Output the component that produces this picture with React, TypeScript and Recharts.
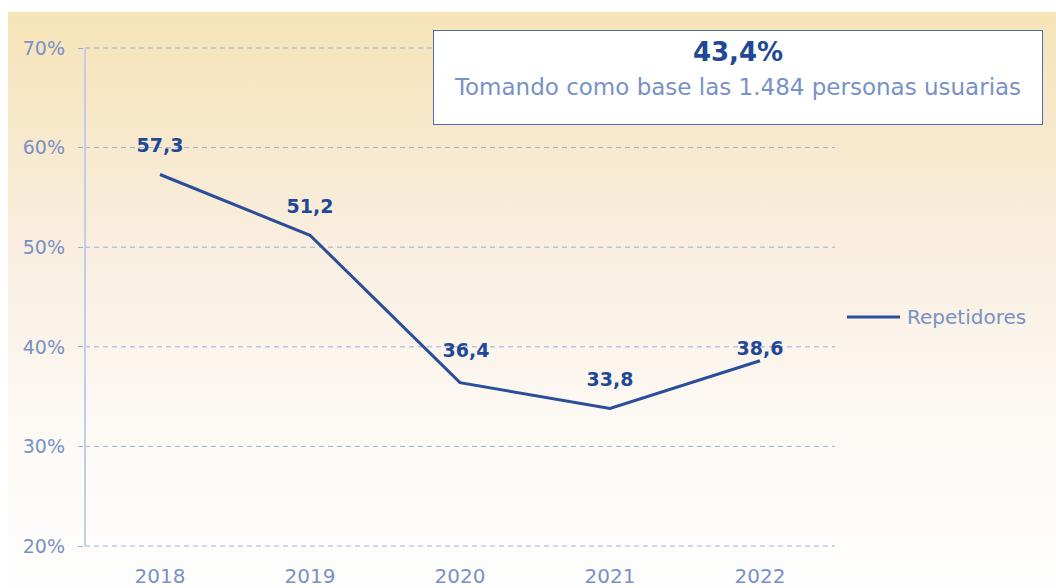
import { CartesianGrid, LabelList, Legend, Line, LineChart, XAxis, YAxis } from 'recharts'

const YEARS = ['2018', '2019', '2020', '2021', '2022']
const REPETIDORES = [57.3, 51.2, 36.4, 33.8, 38.6]
const Y_TICKS = [20, 30, 40, 50, 60, 70]
const SERIES_NAME = 'Repetidores'
const BOX_VALUE = '43,4%'
const BOX_TEXT = 'Tomando como base las 1.484 personas usuarias'

// label nudges, Excel put the last ones a bit differently
const LABEL_SHIFT: [number, number][] = [
  [0, -29],
  [0, -29],
  [6, -32],
  [0, -29],
  [0, -12]
]

const data = YEARS.map((year, i) => ({ year, value: REPETIDORES[i] }))

const FONT = '"DejaVu Sans", Verdana, sans-serif'
const LINE_COLOR = '#2b4e9b'
const LABEL_COLOR = '#1f4897'
const TICK_COLOR = '#7891c6'
const GRID_COLOR = '#9aafdc'

const fmt = (v: number) => v.toFixed(1).replace('.', ',')

function PointLabel(props: any) {
  const { x, y, value, index } = props
  const [dx, dy] = LABEL_SHIFT[index] ?? [0, -29]
  return (
    <text
      x={x + dx}
      y={y + dy}
      dy="0.35em"
      textAnchor="middle"
      fill={LABEL_COLOR}
      fontSize={19}
      fontWeight="bold"
      fontFamily={FONT}
    >
      {fmt(value)}
    </text>
  )
}

function LegendContent() {
  return (
    <div style={{ display: 'flex', alignItems: 'center', fontFamily: FONT }}>
      <svg width={53} height={4}>
        <line x1={0} y1={2} x2={53} y2={2} stroke={LINE_COLOR} strokeWidth={3} />
      </svg>
      <span style={{ marginLeft: 7, fontSize: 20, color: TICK_COLOR }}>{SERIES_NAME}</span>
    </div>
  )
}

export default function App() {
  return (
    <>
      <style>{'body{margin:0;overflow:hidden}'}</style>
      <div
        style={{
          position: 'absolute',
          left: 8,
          top: 12,
          width: 1048,
          height: 576,
          background: 'linear-gradient(to bottom, #f6e3b7 0%, #f9eedf 40%, #fdfaf6 75%, #fefefe 100%)',
          fontFamily: FONT
        }}
      >
        <LineChart
          width={1048}
          height={576}
          data={data}
          margin={{ top: 36, right: 221, bottom: 0, left: 0 }}
        >
          <CartesianGrid
            vertical={false}
            horizontal={{ shapeRendering: 'crispEdges' } as any}
            stroke={GRID_COLOR}
            strokeDasharray="5 4"
          />
          <XAxis
            dataKey="year"
            axisLine={false}
            tickLine={false}
            tickSize={0}
            tickMargin={23}
            height={42}
            padding={{ left: 75, right: 75 }}
            tick={{ fill: TICK_COLOR, fontSize: 20, fontFamily: FONT }}
          />
          <YAxis
            domain={[20, 70]}
            ticks={Y_TICKS}
            width={77}
            tickSize={7}
            tickMargin={13}
            tickFormatter={(v: number) => `${v}%`}
            axisLine={{ stroke: '#c3cde8', strokeWidth: 2 }}
            tickLine={{ stroke: GRID_COLOR, strokeDasharray: '5 4', shapeRendering: 'crispEdges' }}
            tick={{ fill: TICK_COLOR, fontSize: 19, fontFamily: FONT }}
          />
          <Legend
            layout="horizontal"
            verticalAlign="middle"
            align="center"
            content={<LegendContent />}
            wrapperStyle={{ position: 'absolute', left: 839, top: 293, width: 'auto' }}
          />
          <Line
            type="linear"
            dataKey="value"
            name={SERIES_NAME}
            stroke={LINE_COLOR}
            strokeWidth={3}
            dot={false}
            activeDot={false}
            isAnimationActive={false}
          >
            <LabelList dataKey="value" content={<PointLabel />} />
          </Line>
        </LineChart>
        <div
          style={{
            position: 'absolute',
            left: 425,
            top: 18,
            width: 610,
            height: 95,
            boxSizing: 'border-box',
            border: '1.5px solid #4a6db3',
            background: '#ffffff',
            textAlign: 'center'
          }}
        >
          <div style={{ marginTop: 6, fontSize: 26, fontWeight: 'bold', color: LABEL_COLOR, lineHeight: '30px' }}>
            {BOX_VALUE}
          </div>
          <div style={{ marginTop: 6, fontSize: 23, color: TICK_COLOR, lineHeight: '28px' }}>{BOX_TEXT}</div>
        </div>
      </div>
    </>
  )
}
